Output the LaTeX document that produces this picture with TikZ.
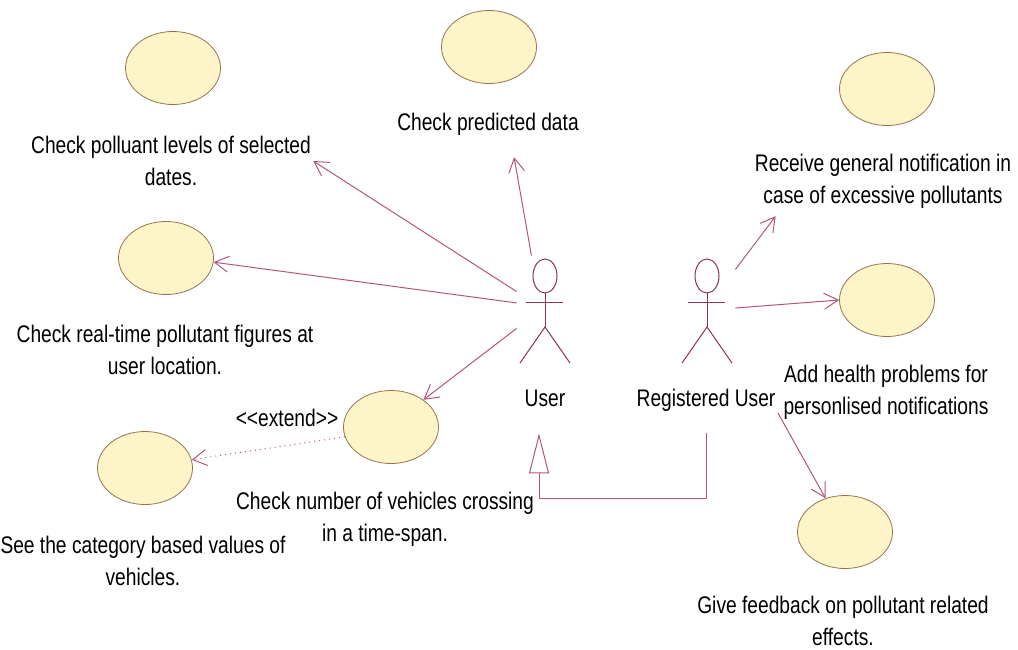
\documentclass[tikz,border=0pt]{standalone}
\usepackage{fontspec}
\setmainfont{Liberation Sans}[FakeStretch=0.8]
\usetikzlibrary{arrows.meta,shapes.geometric}
\definecolor{umlline}{RGB}{180,85,125}
\definecolor{actline}{RGB}{140,50,85}
\definecolor{casefill}{RGB}{253,245,200}
\definecolor{casedraw}{RGB}{150,115,80}
\begin{document}
\begin{tikzpicture}[x=0.5pt,y=-0.5pt,
	usecase/.style={ellipse,draw=casedraw,fill=casefill,minimum width=47.5pt,minimum height=36.5pt,inner sep=0pt},
	caselabel/.style={align=center,inner sep=1pt,font=\fontsize{12}{16}\selectfont},
	actor/.style={minimum width=28pt,minimum height=54pt,inner sep=0pt},
	actorlabel/.style={caselabel,text height=8.5pt,text depth=2.5pt,inner ysep=11pt},
	assoc/.style={umlline,line width=0.5pt,-{Straight Barb[length=7pt,width=8pt]}},
	extendline/.style={assoc,dotted},
	gen/.style={umlline,line width=0.5pt,-{Triangle[open,length=20pt,width=10pt]}}]
		\path[fill=white,use as bounding box] (0,0) rectangle (1018,649);
		
		\foreach \n/\x/\y in {e1/173/68,e2/489/47,e3/887/89,e4/887/300,e5/166/258,e6/391/427,e7/145/468,e8/845/532}{
			\node[usecase] (\n) at (\x,\y){};
		}
		
		\node[caselabel] (l1) at (171,161) {Check polluant levels of selected\\dates.};
		\node[caselabel] (l2) at (488,124) {Check predicted data};
		\node[caselabel] (l3) at (883,181) {Receive general notification in\\case of excessive pollutants};
		\node[caselabel] (l4) at (886,392) {Add health problems for\\personlised notifications};
		\node[caselabel] (l5) at (165,350) {Check real-time pollutant figures at\\user location.};
		\node[caselabel] (l6) at (385,519) {Check number of vehicles crossing\\in a time-span.};
		\node[caselabel] (l7) at (143,561) {See the category based values of\\vehicles.};
		\node[caselabel] (l8) at (843,621) {Give feedback on pollutant related\\effects.};
		
		\foreach \a/\x in {user/545,reg/707}{
			\node[actor] (\a) at (\x,310){};
			\draw[actline,line width=0.5pt] (\x,276) ellipse (6pt and 8.5pt);
			\draw[actline,line width=0.5pt] (\x,293) -- (\x,327);
			\draw[actline,line width=0.5pt] (\x-19,302) -- (\x+18,302);
			\draw[actline,line width=0.5pt] (\x-25,363) -- (\x,327) -- (\x+25,363);
		}
		\node[actorlabel] (ulab) at (545,400) {User};
		\node[actorlabel] (rlab) at (706,400) {Registered User};
		
		\draw[assoc] (user.147) -- (l1.east);
		\draw[assoc,shorten >=10pt] (user.104) -- (l2.-31);
		\draw[assoc] (user.166) -- (e5.-5);
		\draw[assoc] (user.213) -- (e6.40);
		\draw[assoc,shorten >=3.5pt] (reg.55) -- (l3.196);
		\draw[assoc] (reg.4) -- (e4.west);
		\draw[assoc] (rlab.-10) -- (e8.120);
		\draw[extendline] (e6.192) -- (e7.10);
		\node[caselabel] (ext) at (287,418) {<{}<extend>{}>};
		\draw[gen] (rlab.south) -- ++(0,65) -| ([xshift=-3pt]ulab.south);
		\end{tikzpicture}
\end{document}
